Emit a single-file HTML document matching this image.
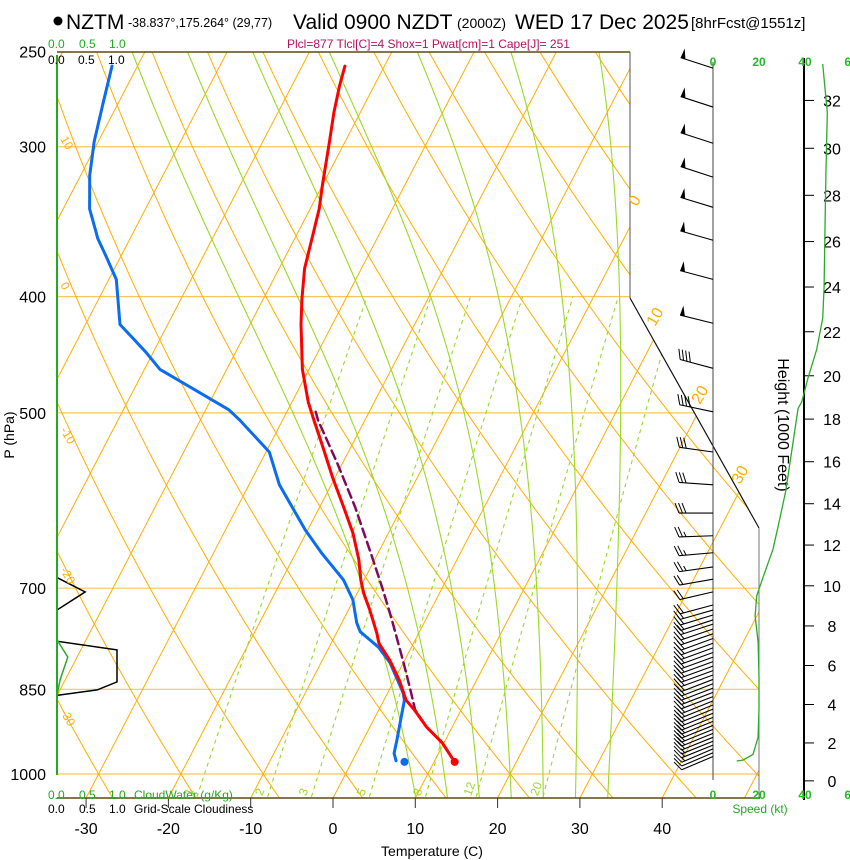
<!DOCTYPE html>
<html><head><meta charset="utf-8"><style>
body{margin:0;background:#fff;}
svg{display:block;font-family:"Liberation Sans",Arial,sans-serif;}
</style></head><body>
<svg id="chart" width="850" height="860" viewBox="0 0 850 860" xmlns="http://www.w3.org/2000/svg">
<defs><clipPath id="plotclip"><polygon points="57,52 630,52 630,298 759,528 759,798 57,798"/></clipPath></defs>
<g>
<circle cx="58" cy="21" r="4.5" fill="#000"/>
<text x="66" y="29" font-size="21">NZTM</text>
<text x="128" y="27" font-size="12.5">-38.837°,175.264° (29,77)</text>
<text x="293" y="29" font-size="21">Valid 0900 NZDT</text>
<text x="457" y="28" font-size="14">(2000Z)</text>
<text x="515" y="29" font-size="21">WED 17 Dec 2025</text>
<text x="691" y="28" font-size="15">[8hrFcst@1551z]</text>
<text x="287" y="48" font-size="12" fill="#b5105e">Plcl=877 Tlcl[C]=4 Shox=1 Pwat[cm]=1 Cape[J]= 251</text>
</g>
<g id="grid" clip-path="url(#plotclip)"></g>
<g id="series" clip-path="url(#plotclip)"></g>
<g id="over"></g>
</svg>
<script>
// ---- data ----
const pressureTicks=[250,300,400,500,700,850,1000];
const tempTicks=[-30,-20,-10,0,10,20,30,40];
const isoTemps=[-90,-80,-70,-60,-50,-40,-30,-20,-10,0,10,20,30,40,50];
const dryThetas=[-40,-30,-20,-10,0,10,20,30,40,50,60,70,80,90,100,110,120];
const moistThetaW=[8,12,16,20,24,28,32];
const mixRatios=[1,2,3,5,8,12,20];
const tempP=[257,267,281,297,323,338,358,379,402,422,460,490,507,534,566,599,630,663,689,707,730,763,778,804,835,868,884,914,942,977];
const tempT=[-44.8,-44.2,-43.2,-41.9,-40.0,-38.9,-37.9,-36.9,-35.3,-33.8,-30.8,-28.0,-26.2,-23.4,-20.3,-17.1,-14.3,-11.9,-10.4,-9.2,-7.4,-5.1,-4.2,-1.8,0.6,2.7,4.3,6.9,9.8,12.5];
const dewP=[257,275,297,317,338,358,369,387,422,445,460,480,497,507,539,574,626,654,689,716,748,761,784,808,856,868,902,937,961,975];
const dewT=[-73.1,-71.9,-70.5,-68.9,-66.8,-63.9,-62.0,-59.1,-55.8,-50.9,-48.1,-42.1,-37.2,-35.2,-29.6,-26.3,-20.3,-16.9,-12.5,-10.1,-8.2,-7.2,-4.0,-1.6,1.9,2.5,3.3,4.1,4.6,5.3];
const sfcP=977, sfcT=12.5, sfcTd=6.4;
const parcelP=[499,507,551,599,659,702,744,804,846,884,914,942,977];
const parcelT=[-26.5,-25.7,-20.6,-15.7,-10.5,-7.1,-4.1,-0.2,2.3,4.4,6.9,9.8,12.5];
const cloudP=[686,705,730,775,788,838,851,860];
const cloudFrac=[0,0.47,0,0,1,1,0.67,0];
const cwP=[773,799,835,860];
const cwVal=[0,0.18,0.05,0];
const windP=[258,278,298,318,337,359,387,421,459,499,539,574,606,633,654,672,688,705,723,730,737,744,750,757,764,771,778,785,792,799,806,813,820,827,834,841,848,855,862,869,876,883,890,897,904,911,918,925,932,939,946,953,960,967];
const windSpd=[50,50,50,50,50,50,50,50,40,38,32,30,28,27,25,23,21,20,19,19,18,18,18,19,19,20,20,20,20,20,20,20,20,20,20,20,20,20,20,20,20,20,20,20,20,20,19,19,18,17,15,13,12,10];
const windDir=[288,288,288,288,287,286,285,284,285,282,278,274,270,268,265,262,260,257,255,254,253,252,252,251,251,250,250,250,250,250,250,250,250,250,249,249,249,249,249,248,248,248,248,248,248,248,248,248,248,248,248,247,247,247];
const spdH=[33.5,31.5,28.9,26.6,24.0,22.6,21.2,19.9,18.8,18.5,16.9,14.6,13.3,11.8,10.4,9.5,8.5,7.2,5.4,3.8,2.3,1.4,1.1,1.05];
const spdV=[47.7,49.7,49.1,48.7,48.3,47.7,45.1,41.3,38.6,37,34.8,31.6,29.1,26.1,21.7,19,18.3,19.6,20,20,19.6,17.4,13,10.3];
const heightTicks=[0,2,4,6,8,10,12,14,16,18,20,22,24,26,28,30,32];
const speedTicks=[0,20,40,60];

// ---- axes ----
const NS='http://www.w3.org/2000/svg';
function Y(p){return 774-521*Math.log(1000/p);}
function X(T,p){return 333+8.23*T+0.52*(798-Y(p));}
function SX(kt){return 713+2.3*kt;}
function HY(kft){const z=kft*304.8;const p=1013.25*Math.pow(1-2.25577e-5*z,5.25588);return Y(p);}
function CX(f){return 57+60*f;}
function mk(tag,attrs,parent){const e=document.createElementNS(NS,tag);for(const k in attrs)e.setAttribute(k,attrs[k]);parent.appendChild(e);return e;}
function pathFrom(pts){return pts.map((q,i)=>(i?'L':'M')+q[0].toFixed(1)+','+q[1].toFixed(1)).join(' ');}
const grid=document.getElementById('grid'),series=document.getElementById('series'),over=document.getElementById('over');

pressureTicks.forEach(p=>{
  const l=mk('line',{x1:57,x2:760,y1:Y(p),y2:Y(p),stroke:'#fbc55a','stroke-width':1.2},grid);
  
  
});
isoTemps.forEach(t=>{
  const l=mk('line',{x1:X(t,1060),y1:Y(1060),x2:X(t,240),y2:Y(240),stroke:'#ffae00','stroke-width':1},grid);
  
  
});
dryThetas.forEach(th=>{
  const pts=[];for(let p=1060;p>=240;p-=10){const T=(th+273.15)*Math.pow(p/1000,0.2857)-273.15;pts.push([X(T,p),Y(p)]);}
  const e=mk('path',{d:pathFrom(pts),fill:'none',stroke:'#ffae00','stroke-width':1},grid);
  
  
});
function rs(Tc,p){const es=6.112*Math.exp(17.67*Tc/(Tc+243.5));return 0.622*es/(p-es);}
function dTdp(Tk,p){const r=rs(Tk-273.15,p);return (287*Tk+2.5e6*r)/(p*(1004+2.5e6*2.5e6*r*0.622/(287*Tk*Tk)));}
moistThetaW.forEach(tw=>{
  let pts=[];let T=tw+273.15;
  for(let p=1000;p>=240;p-=2){pts.push([X(T-273.15,p),Y(p)]);T-=dTdp(T,p)*2;}
  let down=[];T=tw+273.15;
  for(let p=1000;p<=1060;p+=2){T+=dTdp(T,p)*2;down.push([X(T-273.15,p+2),Y(p+2)]);}
  pts=down.reverse().concat(pts);
  const e=mk('path',{d:pathFrom(pts),fill:'none',stroke:'#9ad925','stroke-width':1.1},grid);
  
  
});
mixRatios.forEach(w=>{
  const pts=[];for(let p=1060;p>=400;p-=10){const e=w*p/(622+w);const a=Math.log(e/6.112);const Td=243.5*a/(17.67-a);pts.push([X(Td,p),Y(p)]);}
  const e=mk('path',{d:pathFrom(pts),fill:'none',stroke:'#9ad925','stroke-width':1.1,'stroke-dasharray':'4,4'},grid);
  
  
  const e1=w*1040/(622+w);const a1=Math.log(e1/6.112);const Td1=243.5*a1/(17.67-a1);
  const t=mk('text',{x:X(Td1,1040)-6,y:Y(1040)+2,'font-size':12,fill:'#9ad925',transform:'rotate(-70 '+(X(Td1,1040)-6)+' '+(Y(1040)+2)+')'},over);
  t.textContent=w;
  
  
});

function profile(P,T,color,w,dash,name){
  const pts=P.map((p,i)=>[X(T[i],p),Y(p)]);
  const a={d:pathFrom(pts),fill:'none',stroke:color,'stroke-width':w,'stroke-linejoin':'round','stroke-linecap':'round'};
  if(dash)a['stroke-dasharray']=dash;
  const e=mk('path',a,series);
  
  
}
profile(parcelP,parcelT,'#800a60',2.5,'9,5','parcel-path');
profile(dewP,dewT,'#0a6cf0',3,null,'dewpoint-profile');
profile(tempP,tempT,'#ff0000',3,null,'temperature-profile');
const d1=mk('circle',{cx:X(sfcTd,sfcP),cy:Y(sfcP),r:4,fill:'#0a6cf0'},series);


const d2=mk('circle',{cx:X(sfcT,sfcP),cy:Y(sfcP),r:4,fill:'#ff0000'},series);



const cl=mk('path',{d:pathFrom(cloudP.map((p,i)=>[CX(cloudFrac[i]),Y(p)])),fill:'none',stroke:'#000','stroke-width':1.5},over);


const cw=mk('path',{d:pathFrom(cwP.map((p,i)=>[CX(cwVal[i]),Y(p)])),fill:'none',stroke:'#2aaa2a','stroke-width':1.5},over);



[[57,52,630,52,'#5c4a14',1.5],[630,52,630,298,'#555',1],[630,298,759,528,'#111',1.2],[759,528,759,798,'#777',1],[57,798,760,798,'#5c4a14',1.5]].forEach(s=>{
  const l=mk('line',{x1:s[0],y1:s[1],x2:s[2],y2:s[3],stroke:s[4],'stroke-width':s[5]},over);
  
  
});
const ga=mk('line',{x1:57,y1:55,x2:57,y2:775,stroke:'#22aa22','stroke-width':2},over);



pressureTicks.forEach(p=>{
  const t=mk('text',{x:46,y:Y(p)+6,'font-size':16,'text-anchor':'end'},over);
  t.textContent=p;
  
  
});
const pt=mk('text',{x:14,y:435,'font-size':14,'text-anchor':'middle',transform:'rotate(-90 14 435)'},over);
pt.textContent='P (hPa)';


tempTicks.forEach(T=>{
  const x=333+8.23*T;
  const l=mk('line',{x1:x,x2:x,y1:798,y2:808,stroke:'#333','stroke-width':1},over);
  
  
  const t=mk('text',{x:x,y:834,'font-size':16,'text-anchor':'middle'},over);
  t.textContent=T;
  
  
});
const xt=mk('text',{x:432,y:856,'font-size':14,'text-anchor':'middle'},over);
xt.textContent='Temperature (C)';



const isoLab=[['0',637,207],['10',655,327],['20',700,405],['30',740,485]];
isoLab.forEach(a=>{
  const t=mk('text',{x:a[1],y:a[2],'font-size':16,fill:'#ffae00',transform:'rotate(-60 '+a[1]+' '+a[2]+')'},over);
  t.textContent=a[0];
  
  
});
const thLab=[['10',60,139],['0',60,285],['-10',60,430],['-20',60,570],['-30',60,712]];
thLab.forEach(a=>{
  const t=mk('text',{x:a[1],y:a[2],'font-size':12,fill:'#ffae00',transform:'rotate(60 '+a[1]+' '+a[2]+')'},over);
  t.textContent=a[0];
  
  
});

function txt(s,x,y,size,fill,name,anchor){const t=mk('text',{x:x,y:y,'font-size':size,fill:fill,'text-anchor':anchor||'start'},over);t.textContent=s;return t;}
txt('0.0',48,48,12,'#22aa22','cloudwater-scale-top');txt('0.5',79,48,12,'#22aa22','cloudwater-scale-top');txt('1.0',109,48,12,'#22aa22','cloudwater-scale-top');
txt('0.0',48,64,12,'#000','cloudiness-scale-top');txt('0.5',78,64,12,'#000','cloudiness-scale-top');txt('1.0',108,64,12,'#000','cloudiness-scale-top');
txt('0.0',48,799,12,'#22aa22','cloudwater-scale-bottom');txt('0.5',79,799,12,'#22aa22','cloudwater-scale-bottom');txt('1.0',109,799,12,'#22aa22','cloudwater-scale-bottom');
txt('CloudWater (g/Kg)',134,799,12,'#22aa22','cloudwater-axis-title');
txt('0.0',48,813,12,'#000','cloudiness-scale-bottom');txt('0.5',79,813,12,'#000','cloudiness-scale-bottom');txt('1.0',109,813,12,'#000','cloudiness-scale-bottom');
txt('Grid-Scale Cloudiness',134,813,12,'#000','cloudiness-axis-title');

// wind barbs
const staff=mk('line',{x1:713,x2:713,y1:62,y2:780,stroke:'#444','stroke-width':1},over);


windP.forEach((p,i)=>{
  const g=mk('g',{},over);
  
  
  const d=windDir[i]*Math.PI/180,L=34;
  const ux=Math.sin(d),uy=-Math.cos(d);
  const bx=713,by=Y(p),tx=bx+ux*L,ty=by+uy*L;
  // feather side: perpendicular pointing upward on screen
  let qx=-uy,qy=ux; if(qy>0){qx=-qx;qy=-qy;}
  mk('line',{x1:bx,y1:by,x2:tx,y2:ty,stroke:'#000','stroke-width':1.1},g);
  let s=Math.round(windSpd[i]/5)*5,pos=0;
  while(s>=50){const ax=tx-ux*pos,ay=ty-uy*pos;mk('polygon',{points:[ax,ay,ax-ux*5,ay-uy*5,ax-ux*1+qx*10,ay-uy*1+qy*10].join(','),fill:'#000'},g);pos+=6;s-=50;}
  while(s>=10){const ax=tx-ux*pos,ay=ty-uy*pos;mk('line',{x1:ax,y1:ay,x2:ax+ux*4+qx*10,y2:ay+uy*4+qy*10,stroke:'#000','stroke-width':1},g);pos+=3.5;s-=10;}
  if(s>=5){if(pos===0)pos=3.5;const ax=tx-ux*pos,ay=ty-uy*pos;mk('line',{x1:ax,y1:ay,x2:ax+ux*2+qx*5,y2:ay+uy*2+qy*5,stroke:'#000','stroke-width':1},g);}
});

const ha=mk('line',{x1:804,x2:804,y1:58,y2:800,stroke:'#000','stroke-width':2},over);


heightTicks.forEach(h=>{
  const y=HY(h);
  const l=mk('line',{x1:804,x2:814,y1:y,y2:y,stroke:'#000','stroke-width':1},over);
  
  
  txt(String(h),832,y+6,16,'#000','height-label','middle');
});
const htl=mk('text',{x:778,y:425,'font-size':16,'text-anchor':'middle',transform:'rotate(90 778 425)'},over);
htl.textContent='Height (1000 Feet)';


const sp=mk('path',{d:pathFrom(spdH.map((h,i)=>[SX(spdV[i]),HY(h)])),fill:'none',stroke:'#2aaa2a','stroke-width':1.3},over);


speedTicks.forEach(k=>{
  txt(String(k),SX(k),66,12,'#22bb22','speed-label-top','middle').setAttribute('font-weight','bold');
  txt(String(k),SX(k),799,12,'#22bb22','speed-label-bottom','middle').setAttribute('font-weight','bold');
});
txt('Speed (kt)',760,813,12,'#22aa22','speed-axis-title','middle');
</script>
</body></html>
